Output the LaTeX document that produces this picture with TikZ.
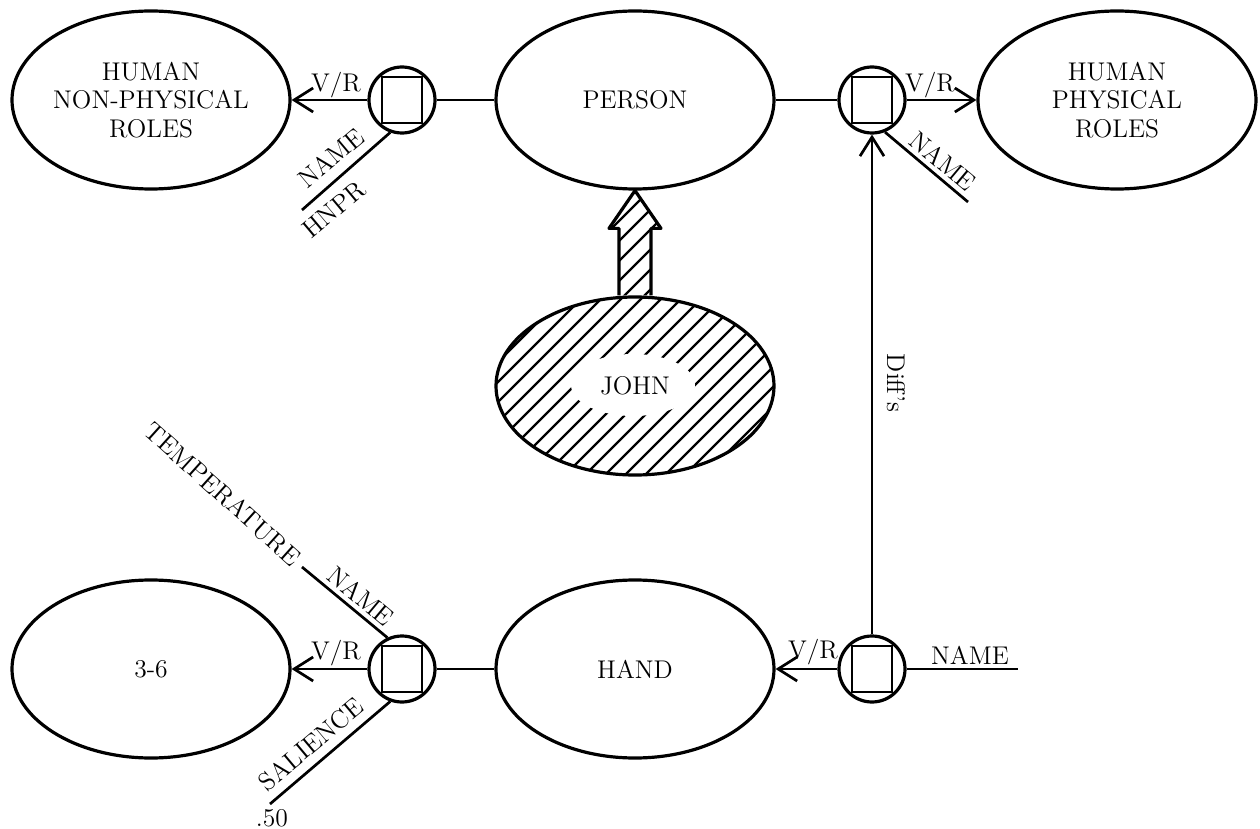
\documentclass[tikz,border=0pt]{standalone}
\usetikzlibrary{arrows.meta,shapes.geometric}
\newcommand\slotmark[1]{\draw[line width=1.3pt] ([shift={(-20,-23)}]#1.center) rectangle ([shift={(20,23)}]#1.center);}
\begin{document}
\begin{tikzpicture}[x=0.5pt,y=-0.5pt,
  frame/.style={ellipse,draw,line width=1.6pt,minimum width=139pt,minimum height=89pt,inner sep=0pt,align=center,font=\fontsize{12.8}{14.2}\selectfont},
  slotc/.style={circle,draw,line width=1.6pt,minimum size=33pt,inner sep=0pt},
  link/.style={line width=1.35pt},
  vr/.style={link,-{Straight Barb[length=9.5pt,width=12pt,line width=1.35pt]}},
  lab/.style={font=\fontsize{12.8}{14}\selectfont,inner sep=0pt},
  hatch/.style={line width=1.2pt}]
\useasboundingbox (0,0) rectangle (1260,829);

% frames
\node[frame] (hnpr) at (151,100) {HUMAN\\NON-PHYSICAL\\ROLES};
\node[frame] (person) at (635,100) {PERSON};
\node[frame] (hpr) at (1117,100) {HUMAN\\PHYSICAL\\ROLES};
\node[frame] (range) at (151,669) {3-6};
\node[frame] (hand) at (635,669) {HAND};

% hatched JOHN
\begin{scope}
  \clip (635,386) ellipse [x radius=140, y radius=89];
  \foreach \i in {-4,...,17} \draw[hatch] (400+\i*20,500) -- ++(300,-300);
\end{scope}
\fill[white] (633,385) ellipse [x radius=62, y radius=31];
\node[frame] (john) at (635,386) {JOHN};

% hatched instance arrow
\path (john.north) coordinate (ab) (person.south) coordinate (at);
\begin{scope}
  \clip ([shift={(-16,0)}]ab) -- ([shift={(-16,-67)}]ab) -- ([shift={(-26,-67)}]ab) -- (at)
        -- ([shift={(26,-67)}]ab) -- ([shift={(16,-67)}]ab) -- ([shift={(16,0)}]ab) -- cycle;
  \foreach \i in {-4,...,5} \draw[hatch] (560+\i*20,320) -- ++(150,-150);
\end{scope}
\draw[line width=1.6pt,line join=round] ([shift={(-16,0)}]ab) -- ([shift={(-16,-67)}]ab) -- ([shift={(-26,-67)}]ab) -- (at)
        -- ([shift={(26,-67)}]ab) -- ([shift={(16,-67)}]ab) -- ([shift={(16,0)}]ab);

% slots
\node[slotc] (c1) at (402,100) {};
\node[slotc] (c2) at (872,100) {};
\node[slotc] (c3) at (402,669) {};
\node[slotc] (c4) at (872,669) {};
\slotmark{c1}\slotmark{c2}\slotmark{c3}\slotmark{c4}

% free ends
\coordinate (n1end) at (302,210);
\coordinate (n2end) at (968,202);
\coordinate (n3end) at (302,567);
\coordinate (s3end) at (270,804);
\coordinate (n4end) at (1018,669);

% connectors
\draw[link] (c1) -- (person);
\draw[vr] (c1) -- (hnpr);
\draw[link] (person) -- (c2);
\draw[vr] (c2) -- (hpr);
\draw[link] (c3) -- (hand);
\draw[vr] (c3) -- (range);
\draw[vr] (c4) -- (hand);
\draw[vr] (c4) -- (c2);
\draw[link] (c1.250) -- (n1end);
\draw[link] (c2.292) -- (n2end);
\draw[link] (c3.115) -- (n3end);
\draw[link] (c3.250) -- (s3end);
\draw[link] (c4) -- (n4end);

% labels
\node[lab] (l1) at (336,85) {V/R};
\node[lab] (l2) at (930,85) {V/R};
\node[lab] (l3) at (336,653) {V/R};
\node[lab] (l4) at (813,652) {V/R};
\node[lab] (l5) at (970,655) {NAME};
\node[lab,rotate=40] (l6) at (331,158) {NAME};
\node[lab,rotate=40] (l7) at (334,210) {HNPR};
\node[lab,rotate=-40] (l8) at (943,161) {NAME};
\node[lab,rotate=-40] (l9) at (361,596) {NAME};
\node[lab,rotate=-42] (l10) at (223,494) {TEMPERATURE};
\node[lab,rotate=40] (l11) at (311,744) {SALIENCE};
\node[lab] (l12) at (272,818) {.50};
\node[lab,rotate=-90] (l13) at (896,383) {Diff's};
\end{tikzpicture}
\end{document}
